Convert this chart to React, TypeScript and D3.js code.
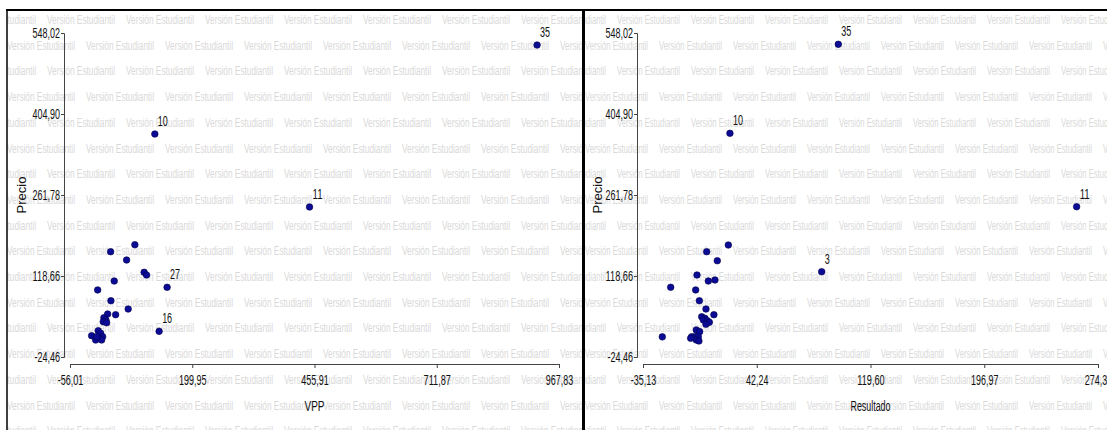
import React, { useRef, useEffect } from 'react';
import * as d3 from 'd3';

const precioTicks = [-24.46, 118.66, 261.78, 404.90, 548.02];
const vppTicks = [-56.01, 199.95, 455.91, 711.87, 967.83];
const resultadoTicks = [-35.13, 42.24, 119.60, 196.97, 274.33];

// [VPP, Precio, etiqueta]
const vppPoints: [number, number, string][] = [
  [921.9, 526.8, '35'], [121.6, 369.5, '10'], [445.5, 240.6, '11'],
  [79.8, 174.0, ''], [29.0, 161.6, ''], [62.5, 146.9, ''], [99.2, 125.2, ''],
  [104.3, 120.4, ''], [36.6, 109.8, ''], [147.3, 98.7, '27'], [1.9, 94.0, ''],
  [29.7, 75.0, ''], [65.8, 60.3, ''], [39.5, 50.3, ''], [22.8, 51.5, ''],
  [15.0, 45.0, ''], [19.2, 40.9, ''], [13.6, 37.9, ''], [20.7, 36.1, ''],
  [130.6, 20.9, '16'], [-10.7, 13.2, ''], [3.1, 22.0, ''], [8.1, 17.4, ''],
  [12.3, 11.4, ''], [4.6, 8.6, ''], [-2.3, 5.6, ''], [10.2, 5.6, ''], [-0.2, 11.4, ''],
];

// [Resultado, Precio, etiqueta]
const resultadoPoints: [number, number, string][] = [
  [97.7, 528.0, '35'], [24.0, 370.8, '10'], [259.8, 241.1, '11'], [86.4, 126.3, '3'],
  [22.9, 173.4, ''], [8.2, 161.6, ''], [15.4, 145.7, ''], [1.6, 120.4, ''],
  [9.3, 109.8, ''], [13.8, 111.6, ''], [-16.3, 98.7, ''], [0.7, 94.0, ''],
  [3.2, 75.0, ''], [7.7, 60.3, ''], [13.1, 50.3, ''], [4.8, 46.7, ''],
  [7.0, 43.9, ''], [5.9, 40.9, ''], [8.6, 39.7, ''], [10.0, 36.9, ''],
  [7.7, 33.3, ''], [-22.0, 11.1, ''], [1.1, 23.3, ''], [3.4, 20.3, ''],
  [-2.0, 11.4, ''], [0.2, 11.4, ''], [2.5, 11.4, ''], [1.1, 5.6, ''],
  [2.9, 3.8, ''], [-2.7, 8.6, ''],
];

const font = "'Liberation Sans', Arial, sans-serif";
const fmt = (v: number) => v.toFixed(2).replace('.', ',');

// ancho aproximado de la fuente estrecha original
const narrowWidth = (s: string) => {
  let w = 0;
  for (const c of s) {
    if (c === ',' || c === '.') w += 2.4;
    else if (c === '-') w += 3.2;
    else if (c >= '0' && c <= '9') w += 5;
    else w += 5.2;
  }
  return w;
};

const panels = [
  {
    left: 7, right: 582, xTitle: 'VPP', xTitleW: 20, xTicks: vppTicks, points: vppPoints,
    yAxisX: 64, xRange: [70, 559], yTitleX: 21,
    wmPeriod: 79, wmWidth: 68, wmStart: [47, 7],
  },
  {
    left: 585, right: 1107, xTitle: 'Resultado', xTitleW: 40, xTicks: resultadoTicks, points: resultadoPoints,
    yAxisX: 637, xRange: [643, 1098], yTitleX: 597,
    wmPeriod: 74, wmWidth: 63, wmStart: [617, 585],
  },
];

const App = () => {
  const ref = useRef<SVGSVGElement>(null);

  useEffect(() => {
    const svg = d3.select(ref.current);
    svg.selectAll('*').remove();

    svg.append('rect').attr('width', 1107).attr('height', 430).attr('fill', 'white');

    panels.forEach((p, pi) => {
      const g = svg.append('g');
      const clipId = 'clip' + pi;
      svg.append('clipPath').attr('id', clipId)
        .append('rect').attr('x', p.left).attr('y', 11)
        .attr('width', p.right - p.left).attr('height', 420);

      // marca de agua
      const wm = g.append('g').attr('clip-path', `url(#${clipId})`);
      for (let r = 0; r < 17; r++) {
        const y = 20 + r * 25.7;
        let x = p.wmStart[r % 2];
        while (x > p.left - p.wmPeriod) x -= p.wmPeriod;
        for (; x < p.right; x += p.wmPeriod) {
          wm.append('text')
            .attr('x', x).attr('y', y)
            .attr('dominant-baseline', 'central')
            .attr('textLength', p.wmWidth)
            .attr('lengthAdjust', 'spacingAndGlyphs')
            .style('font-family', font)
            .style('font-size', '12.5px')
            .attr('fill', '#d9d9d9')
            .text('Versión Estudiantil');
        }
      }

      const x = d3.scaleLinear().domain([p.xTicks[0], p.xTicks[4]]).range(p.xRange);
      const y = d3.scaleLinear().domain([precioTicks[0], precioTicks[4]]).range([357, 33]);

      // eje y
      const yAxis = g.append('g').attr('transform', `translate(${p.yAxisX},0)`)
        .call(d3.axisLeft(y).tickValues(precioTicks).tickFormat((d) => fmt(+d)).tickSize(3).tickPadding(1));
      yAxis.select('.domain').attr('stroke', '#444');
      yAxis.selectAll('line').attr('stroke', '#444');
      yAxis.selectAll('text')
        .style('font-family', font).style('font-size', '14px').attr('fill', '#111')
        .attr('textLength', (d: any) => narrowWidth(fmt(d)))
        .attr('lengthAdjust', 'spacingAndGlyphs');

      // eje x
      const xAxis = g.append('g').attr('transform', 'translate(0,364)')
        .call(d3.axisBottom(x).tickValues(p.xTicks).tickFormat((d) => fmt(+d)).tickSize(4).tickPadding(7));
      xAxis.select('.domain').attr('stroke', '#444');
      xAxis.selectAll('line').attr('stroke', '#444');
      xAxis.selectAll('text')
        .style('font-family', font).style('font-size', '14px').attr('fill', '#111')
        .attr('textLength', (d: any) => narrowWidth(fmt(d)))
        .attr('lengthAdjust', 'spacingAndGlyphs');

      g.append('text')
        .attr('x', (p.xRange[0] + p.xRange[1]) / 2).attr('y', 411)
        .attr('text-anchor', 'middle')
        .attr('textLength', p.xTitleW)
        .attr('lengthAdjust', 'spacingAndGlyphs')
        .style('font-family', font).style('font-size', '14px').attr('fill', '#111')
        .text(p.xTitle);

      g.append('text')
        .attr('transform', `translate(${p.yTitleX},195) rotate(-90)`)
        .attr('text-anchor', 'middle')
        .attr('dominant-baseline', 'central')
        .style('font-family', font).style('font-size', '13px')
        .attr('fill', '#111')
        .text('Precio');

      // puntos
      g.append('g').selectAll('circle')
        .data(p.points)
        .join('circle')
        .attr('cx', (d) => x(d[0]))
        .attr('cy', (d) => y(d[1]))
        .attr('r', 3.3)
        .attr('fill', '#0b0b96')
        .attr('stroke', '#02024a')
        .attr('stroke-width', 0.6);

      g.append('g').selectAll('text')
        .data(p.points.filter((d) => d[2] !== ''))
        .join('text')
        .attr('x', (d) => x(d[0]) + 3)
        .attr('y', (d) => y(d[1]) - 8)
        .attr('textLength', (d) => narrowWidth(d[2]))
        .attr('lengthAdjust', 'spacingAndGlyphs')
        .style('font-family', font).style('font-size', '14px')
        .attr('fill', '#111')
        .text((d) => d[2]);
    });

    // bordes
    svg.append('line').attr('x1', 6).attr('x2', 1107).attr('y1', 10).attr('y2', 10)
      .attr('stroke', '#000').attr('stroke-width', 2);
    svg.append('line').attr('x1', 7).attr('x2', 7).attr('y1', 9).attr('y2', 430)
      .attr('stroke', '#000').attr('stroke-width', 1.5);
    svg.append('line').attr('x1', 583.5).attr('x2', 583.5).attr('y1', 9).attr('y2', 430)
      .attr('stroke', '#000').attr('stroke-width', 3);
  }, []);

  return (
    <svg ref={ref} width={1107} height={430}
      style={{ position: 'absolute', left: 0, top: 0, display: 'block' }} />
  );
};

export default App;
